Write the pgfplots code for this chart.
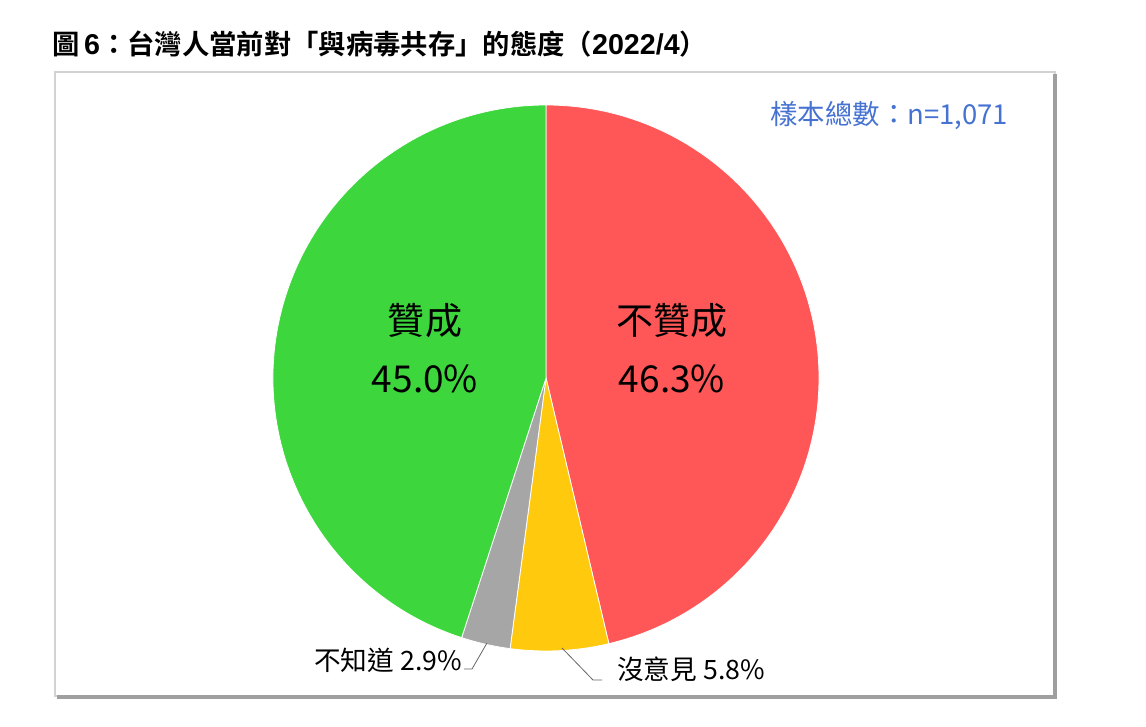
\documentclass[border=0pt]{standalone}
\usepackage{pgfplots}
\pgfplotsset{compat=1.18}
\usepackage{pgfplotstable}
\usepackage{fontspec}
\setmainfont{Noto Sans CJK TC}
\newfontfamily\cjkb{Noto Sans CJK TC Bold}
\newfontfamily\arial{Liberation Sans}
\definecolor{pgreen}{RGB}{61,214,61}
\definecolor{pred}{RGB}{255,87,87}
\definecolor{pyellow}{RGB}{255,201,14}
\definecolor{pgray}{RGB}{166,166,166}
\definecolor{pblue}{RGB}{70,114,210}

\pgfplotstableread{
label value
nonagree 46.3
noopinion 5.8
dontknow 2.9
agree 45.0
}\piedata

\begin{document}%
\begin{tikzpicture}[x=0.75pt,y=0.75pt]
\pgfplotstablegetelem{0}{value}\of\piedata \global\let\vA\pgfplotsretval
\pgfplotstablegetelem{1}{value}\of\piedata \global\let\vB\pgfplotsretval
\pgfplotstablegetelem{2}{value}\of\piedata \global\let\vC\pgfplotsretval
\pgfplotstablegetelem{3}{value}\of\piedata \global\let\vD\pgfplotsretval
\pgfmathsetmacro\aZ{90}\global\let\aZ\aZ
\pgfmathsetmacro\aA{\aZ-3.6*\vA}\global\let\aA\aA
\pgfmathsetmacro\aB{\aA-3.6*\vB}\global\let\aB\aB
\pgfmathsetmacro\aC{\aB-3.6*\vC}\global\let\aC\aC
\pgfmathsetmacro\aD{\aC-3.6*\vD}\global\let\aD\aD
\pgfmathsetmacro\xZ{cos(\aZ)}\global\let\xZ\xZ
\pgfmathsetmacro\yZ{sin(\aZ)}\global\let\yZ\yZ
\pgfmathsetmacro\xA{cos(\aA)}\global\let\xA\xA
\pgfmathsetmacro\yA{sin(\aA)}\global\let\yA\yA
\pgfmathsetmacro\xB{cos(\aB)}\global\let\xB\xB
\pgfmathsetmacro\yB{sin(\aB)}\global\let\yB\yB
\pgfmathsetmacro\xC{cos(\aC)}\global\let\xC\xC
\pgfmathsetmacro\yC{sin(\aC)}\global\let\yC\yC
\path[use as bounding box] (0,0) rectangle (1146,726);
\coordinate (pc) at (546,726-378);
% frame with shadow
\draw[gray!35, line width=1.2pt] (55,726-72) rectangle (1055,726-696);
\draw[gray!75, line width=2.4pt] (1055,726-74) -- (1055,726-697) -- (57,726-697);
% title
\node[anchor=base west, inner sep=0pt, font=\fontsize{20.5pt}{23pt}\selectfont] at (52,726-55)
  {\cjkb 圖\,{\arial\bfseries\fontsize{21.5pt}{23pt}\selectfont 6}：台灣人當前對「與病毒共存」的態度（{\arial\bfseries\fontsize{21.5pt}{23pt}\selectfont 2022/4}）};
% sample size
\node[anchor=base west, inner sep=0pt, text=pblue, font=\fontsize{20.6pt}{22pt}\selectfont] at (770,726-125)
  {樣本總數：n=1,071};
\begin{axis}[at={(pc)}, anchor=center, scale only axis,
  width=409.5pt, height=409.5pt, xmin=-1, xmax=1, ymin=-1, ymax=1, hide axis, clip=false]
\addplot[draw=none, forget plot] coordinates {(0,0)};
\fill[pred, draw=white, line width=0.6pt] (axis cs:0,0) -- (axis cs:\xZ,\yZ) arc[start angle=\aZ, end angle=\aA, radius=204.75pt] -- cycle;
\fill[pyellow, draw=white, line width=0.6pt] (axis cs:0,0) -- (axis cs:\xA,\yA) arc[start angle=\aA, end angle=\aB, radius=204.75pt] -- cycle;
\fill[pgray, draw=white, line width=0.6pt] (axis cs:0,0) -- (axis cs:\xB,\yB) arc[start angle=\aB, end angle=\aC, radius=204.75pt] -- cycle;
\fill[pgreen, draw=white, line width=0.6pt] (axis cs:0,0) -- (axis cs:\xC,\yC) arc[start angle=\aC, end angle=\aD, radius=204.75pt] -- cycle;
\end{axis}
% labels
\begin{scope}[font=\fontsize{27.8pt}{30pt}\selectfont]
\node[anchor=base, inner sep=0pt] at (425,726-334) {贊成};
\node[anchor=base, inner sep=0pt] at (425,726-392) {45.0\%};
\node[anchor=base, inner sep=0pt] at (672,726-334) {不贊成};
\node[anchor=base, inner sep=0pt] at (672,726-392) {46.3\%};
\end{scope}
\draw[gray!80!black, line width=0.6pt] (487,726-643) -- (472,726-669) -- (464,726-669);
\draw[gray!80!black, line width=0.6pt] (562,726-648) -- (593,726-680) -- (602,726-680);
\begin{scope}[font=\fontsize{20pt}{22pt}\selectfont]
\node[anchor=base west, inner sep=0pt] at (314,726-670) {不知道 2.9\%};
\node[anchor=base west, inner sep=0pt] at (617,726-679) {沒意見 5.8\%};
\end{scope}
\end{tikzpicture}%
\end{document}
